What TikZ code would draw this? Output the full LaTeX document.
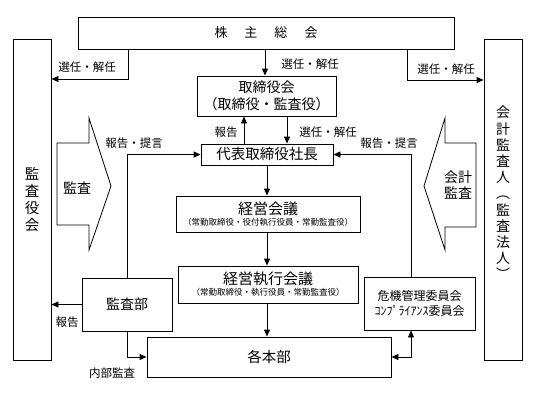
\documentclass[tikz,border=0pt]{standalone}
\usepackage{fontspec}
\setmainfont{Noto Sans CJK JP}
\usetikzlibrary{arrows.meta}
\begin{document}
\begin{tikzpicture}[x=1pt,y=-1pt,
  box/.style={draw,line width=0.9pt,inner sep=0pt,align=center},
  arr/.style={line width=0.9pt,-{Triangle[length=7pt,width=6pt]}},
  darr/.style={line width=0.9pt,{Triangle[length=7pt,width=6pt]}-{Triangle[length=7pt,width=6pt]}},
  lab/.style={inner sep=0pt,font=\fontsize{11.5}{12}\selectfont},
  big/.style={font=\fontsize{14.5}{16}\selectfont},
  blk/.style={draw,line width=0.8pt,line join=miter}]
\useasboundingbox (0,0) rectangle (533,394);
% boxes
\node[box,minimum width=376pt,minimum height=32pt,font=\fontsize{13}{14}\selectfont] (sh) at (266,33) {株\hspace{17pt}主\hspace{17pt}総\hspace{17pt}会};
\node[box,minimum width=38pt,minimum height=321pt] (kansa) at (32,199.5) {};
\node[box,minimum width=38pt,minimum height=321pt] (kaikei) at (503,199.5) {};
\node[inner sep=0pt,align=center,font=\fontsize{14.5}{17}\selectfont] (kansaT) at (kansa) {監\\査\\役\\会};
\node[inner sep=0pt,align=center,font=\fontsize{14}{16.2}\selectfont] (kaikeiT) at (503,193) {会\\計\\監\\査\\人\\︵\\監\\査\\法\\人\\︶};
\node[box,minimum width=139pt,minimum height=40pt,font=\fontsize{14}{17}\selectfont] (tb) at (266.5,96) {取締役会\\（取締役・監査役）};
\node[box,minimum width=132pt,minimum height=21pt,font=\fontsize{14.5}{16}\selectfont] (dai) at (267,154.5) {代表取締役社長};
\node[box,minimum width=184pt,minimum height=36pt] (kk) at (268,214) {{\fontsize{15}{17}\selectfont 経営会議}\\[-1pt]{\fontsize{8.5}{10}\selectfont （常勤取締役・役付執行役員・常勤監査役）}};
\node[box,minimum width=180pt,minimum height=37pt] (kss) at (268,284.5) {{\fontsize{15}{17}\selectfont 経営執行会議}\\[-1pt]{\fontsize{8.5}{10}\selectfont （常勤取締役・執行役員・常勤監査役）}};
\node[box,minimum width=244pt,minimum height=40pt,big] (kb) at (269,357) {各本部};
\node[box,minimum width=90pt,minimum height=53pt,font=\fontsize{14}{16}\selectfont] (kbu) at (127,304.5) {監査部};
\node[box,minimum width=111pt,minimum height=53pt,font=\fontsize{12}{15}\selectfont] (kiki) at (419.5,303.5) {危機管理委員会\\ｺﾝﾌﾟﾗｲｱﾝｽ委員会};
% block arrows
\draw[blk] (57,143) -- (89,143) -- (89,118) -- (111,186) -- (89,250) -- (89,225) -- (57,225) -- cycle;
\draw[blk] (476,143) -- (445,143) -- (445,118) -- (424,186) -- (445,250) -- (445,227) -- (476,227) -- cycle;
\node[inner sep=0pt,font=\fontsize{14}{16}\selectfont] (kansaA) at (77,188) {監査};
\node[inner sep=0pt,align=center,font=\fontsize{14}{15.5}\selectfont] (kaikeiA) at (458,185) {会計\\監査};
% helper coordinates
\coordinate (xl) at (128,0);
\coordinate (yl) at (0,79);
\coordinate (xr) at (407,0);
\coordinate (yr) at (0,80);
\coordinate (xc) at (265,0);
\coordinate (xa) at (244,0);
\coordinate (xb) at (287,0);
\coordinate (xk) at (411,0);
% connectors
\draw[arr] (sh.south -| xc) -- (tb.north -| xc);
\draw[arr] (sh.south -| xl) |- (kansa.east |- yl);
\draw[arr] (sh.south -| xr) |- (kaikei.west |- yr);
\draw[arr] (dai.north -| xa) -- (tb.south -| xa);
\draw[arr] (tb.south -| xb) -- (dai.north -| xb);
\draw[arr] (dai.south) -- (dai.south |- kk.north);
\draw[arr] (kk.south -| dai.south) -- (kss.north -| dai.south);
\draw[arr] (kss.south -| dai.south) -- (kb.north -| dai.south);
\draw[arr] (kbu.north) |- (dai.west);
\draw[arr] (kiki.north -| xk) |- (dai.east);
\draw[arr] (kbu.west) -- (kbu.west -| kansa.east);
\draw[arr] (kbu.south) |- (kb.west);
\draw[darr] (kb.east) -| (kiki.south -| xk);
% labels
\node[lab] (l1) at (87,67) {選任・解任};
\node[lab] (l2) at (310,64) {選任・解任};
\node[lab] (l3) at (446,69) {選任・解任};
\node[lab] (l4) at (226,132) {報告};
\node[lab] (l5) at (328,132) {選任・解任};
\node[lab] (l6) at (134,143) {報告・提言};
\node[lab] (l7) at (389,143) {報告・提言};
\node[lab] (l8) at (67,322) {報告};
\node[lab] (l9) at (112,373) {内部監査};
\end{tikzpicture}
\end{document}
